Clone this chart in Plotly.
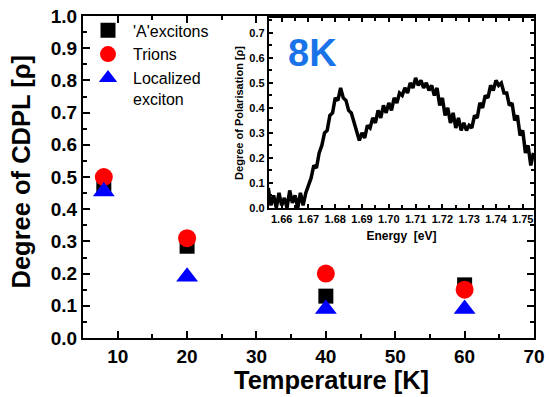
import plotly.graph_objects as go

# Main chart data
temperature = [8, 20, 40, 60]
a_excitons = [0.47, 0.285, 0.13, 0.165]
trions = [0.50, 0.31, 0.20, 0.15]
localized = [0.455, 0.19, 0.09, 0.09]

# Inset data (degree of polarisation vs energy at 8K)
energy = [round(1.655 + 0.001 * i, 3) for i in range(100)]
polarisation = [
    0.08, 0.01, 0.05, 0.00, 0.06, 0.01, 0.04, 0.00, 0.07, 0.02,
    0.05, 0.00, 0.06, 0.01, 0.06, 0.09, 0.12, 0.17, 0.16, 0.22,
    0.25, 0.30, 0.31, 0.37, 0.38, 0.44, 0.43, 0.48, 0.44, 0.43,
    0.39, 0.38, 0.34, 0.31, 0.27, 0.30, 0.28, 0.33, 0.32, 0.36,
    0.34, 0.39, 0.36, 0.41, 0.38, 0.42, 0.39, 0.44, 0.42, 0.46,
    0.45, 0.48, 0.46, 0.50, 0.48, 0.52, 0.49, 0.51, 0.48, 0.50,
    0.47, 0.49, 0.45, 0.48, 0.41, 0.44, 0.37, 0.40, 0.34, 0.38,
    0.32, 0.36, 0.31, 0.34, 0.31, 0.33, 0.32, 0.37, 0.36, 0.42,
    0.40, 0.45, 0.44, 0.49, 0.47, 0.51, 0.49, 0.50, 0.46, 0.46,
    0.41, 0.42, 0.35, 0.37, 0.29, 0.31, 0.22, 0.25, 0.17, 0.22,
]

FONT = "Liberation Sans, Arial, sans-serif"

fig = go.Figure()
fig.add_trace(go.Scatter(x=temperature, y=a_excitons, mode="markers", name="'A'excitons",
                         marker=dict(symbol="square", size=15, color="black")))
fig.add_trace(go.Scatter(x=temperature, y=trions, mode="markers", name="Trions",
                         marker=dict(symbol="circle", size=18, color="#ff0000")))
fig.add_trace(go.Scatter(x=temperature, y=localized, mode="markers", name="Localized<br>exciton",
                         marker=dict(symbol="triangle-up", size=19, color="#0000ff")))

fig.add_trace(go.Scatter(x=energy, y=polarisation, mode="lines", showlegend=False,
                         line=dict(color="black", width=3.5), xaxis="x2", yaxis="y2"))

axis_common = dict(showline=True, linewidth=2, linecolor="black", mirror="ticks",
                   ticks="inside", tickcolor="black", tickwidth=2, showgrid=False,
                   zeroline=False, automargin=False)

fig.update_layout(
    width=549, height=397,
    margin=dict(l=83, r=15, t=16, b=59),
    paper_bgcolor="white", plot_bgcolor="white",
    font=dict(family=FONT, color="black"),
    xaxis=dict(range=[5, 70], dtick=10, ticklen=7,
               minor=dict(dtick=5, ticks="inside", ticklen=4, tickcolor="black", tickwidth=2),
               tickfont=dict(size=19, weight="bold"),
               **axis_common),
    yaxis=dict(range=[0, 1.0], dtick=0.1, tickformat=".1f", ticklen=7,
               minor=dict(dtick=0.05, ticks="inside", ticklen=4, tickcolor="black", tickwidth=2),
               tickfont=dict(size=19, weight="bold"),
               **axis_common),
    xaxis2=dict(domain=[0.412, 1.0], anchor="y2", range=[1.6552, 1.7542], dtick=0.01,
                tickformat=".2f", ticklen=4,
                minor=dict(dtick=0.005, ticks="inside", ticklen=3, tickcolor="black", tickwidth=1.5),
                tickfont=dict(size=11, weight="bold"),
                title=dict(text="Energy  [eV]", font=dict(size=12, weight="bold"), standoff=7),
                **{**axis_common, "tickwidth": 1.5}),
    yaxis2=dict(domain=[0.404, 0.994], anchor="x2", range=[0, 0.76], dtick=0.1,
                tickformat=".1f", ticklen=4,
                minor=dict(dtick=0.05, ticks="inside", ticklen=3, tickcolor="black", tickwidth=1.5),
                tickfont=dict(size=11, weight="bold"),
                title=dict(text="Degree of Polarisation [ρ]", font=dict(size=11, weight="bold"), standoff=3),
                **{**axis_common, "tickwidth": 1.5}),
    legend=dict(x=0.0, y=1.008, xanchor="left", yanchor="top", bgcolor="rgba(0,0,0,0)",
                font=dict(size=16, family=FONT), tracegroupgap=0, itemsizing="trace",
                itemwidth=40, valign="top"),
    annotations=[
        dict(text="8K", x=0.508, y=0.885, xref="paper", yref="paper", xanchor="center",
             yanchor="middle", showarrow=False,
             font=dict(size=38, color="#1a73e8", weight="bold", family=FONT)),
        dict(text="Degree of CDPL [ρ]", x=-0.1375, y=0.517, xref="paper", yref="paper",
             xanchor="center", yanchor="middle", textangle=-90, showarrow=False,
             font=dict(size=25.5, weight="bold", family=FONT)),
        dict(text="Temperature [K]", x=0.55, y=-0.130, xref="paper", yref="paper",
             xanchor="center", yanchor="middle", showarrow=False,
             font=dict(size=25.5, weight="bold", family=FONT)),
    ],
)

fig.write_html("out.html", config={"displayModeBar": False},
               post_script="document.body.style.margin='0px';document.body.style.overflow='hidden';")
